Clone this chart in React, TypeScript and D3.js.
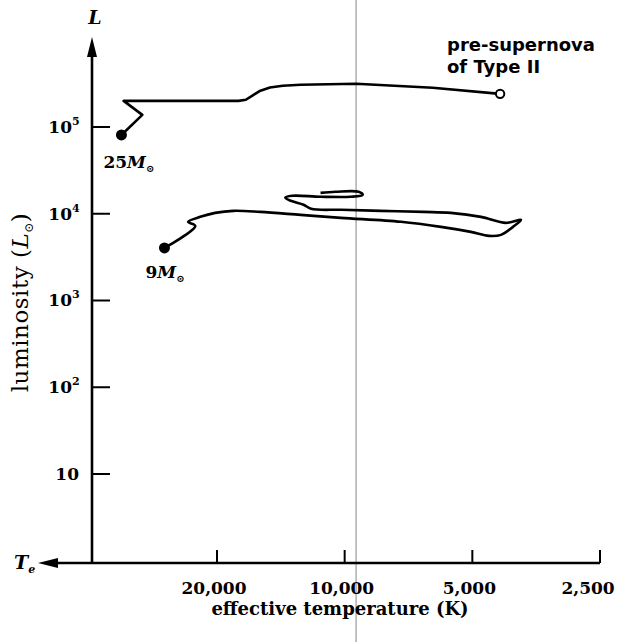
import * as d3 from "d3";

// temperature ticks (K) and luminosity decades (L_sun)
const tempTicks = [20000, 10000, 5000, 2500];
const tempLabels = ["20,000", "10,000", "5,000", "2,500"];
const lumTicks = [10, 100, 1000, 10000, 100000];
const lumExp = ["", "2", "3", "4", "5"];

// [Teff, L] along the evolutionary tracks
const track25: [number, number][] = [
  [33600, 81000],
  [30000, 138000],
  [33200, 200000],
  [17800, 200000],
  [17100, 206000],
  [16400, 235000],
  [15800, 262000],
  [15000, 285000],
  [14000, 299000],
  [12700, 307000],
  [9400, 315000],
  [6200, 283000],
  [4300, 241000],
];

const track9: [number, number][] = [
  [26600, 4040],
  [22500, 7250],
  [23400, 8070],
  [21900, 9210],
  [20200, 10230],
  [18300, 10800],
  [15800, 10500],
  [12700, 9710],
  [10200, 8970],
  [7370, 8070],
  [5930, 7060],
  [5040, 6180],
  [4570, 5560],
  [4280, 5710],
  [4010, 7060],
  [3840, 8500],
  [4170, 7850],
  [4770, 9210],
  [5620, 10230],
  [6510, 10500],
  [8220, 10800],
  [10200, 11100],
  [12000, 11400],
  [12500, 12700],
  [13400, 14100],
  [13800, 15300],
  [13300, 16100],
  [11400, 15700],
  [9680, 15700],
  [9070, 16500],
  [9270, 17900],
  [10500, 17900],
  [11400, 17400],
];

// faint fold line in the scanned page
const foldT = 9400;

const W = 628;
const H = 642;
const axisX = 92;
const axisY = 563;

const serif = "'DejaVu Serif', serif";

export default function App() {
  const x = d3.scaleLog().domain([20000, 2500]).range([217, 600]);
  const y = d3.scaleLog().domain([10, 100000]).range([474, 127]);

  const linear = d3
    .line<[number, number]>()
    .x((d) => x(d[0]))
    .y((d) => y(d[1]));
  const smooth = d3
    .line<[number, number]>()
    .x((d) => x(d[0]))
    .y((d) => y(d[1]))
    .curve(d3.curveCatmullRom.alpha(0.5));

  const s25 = track25[0];
  const e25 = track25[track25.length - 1];
  const s9 = track9[0];

  return (
    <svg
      width={W}
      height={H}
      style={{ position: "absolute", left: 0, top: 0, background: "#fff" }}
    >
      <line
        x1={x(foldT)}
        x2={x(foldT)}
        y1={0}
        y2={H}
        stroke="#666"
        strokeWidth={0.8}
      />

      {/* y axis */}
      <line x1={axisX} x2={axisX} y1={axisY} y2={52} stroke="#000" strokeWidth={2.6} />
      <path d={`M${axisX},37 L${axisX - 5},57 L${axisX + 5},57 Z`} fill="#000" />
      <text x={axisX + 3} y={24} fontFamily={serif} fontStyle="italic" fontWeight="bold" fontSize={19} textAnchor="middle">
        L
      </text>
      {lumTicks.map((t, i) => (
        <g key={t} transform={`translate(0,${y(t)})`}>
          <line x1={axisX} x2={axisX + 18} stroke="#000" strokeWidth={2} />
          <text
            x={lumExp[i] ? 72 : 79}
            dy="0.35em"
            fontFamily={serif}
            fontWeight="bold"
            fontSize={17}
            textAnchor="end"
          >
            10
          </text>
          {lumExp[i] && (
            <text x={72} dy="-0.2em" fontFamily={serif} fontWeight="bold" fontSize={11}>
              {lumExp[i]}
            </text>
          )}
        </g>
      ))}
      <text
        transform={`translate(28,${y(1000) + 2}) rotate(-90)`}
        fontFamily={serif}
        fontSize={23}
        letterSpacing={0.5}
        textAnchor="middle"
      >
        luminosity (<tspan fontStyle="italic">L</tspan>
        <tspan fontSize={12} dy={5}>⊙</tspan>
        <tspan dy={-5}>)</tspan>
      </text>

      {/* x axis */}
      <line x1={x(2500)} x2={52} y1={axisY} y2={axisY} stroke="#000" strokeWidth={2.6} />
      <path d={`M38,${axisY} L58,${axisY - 5} L58,${axisY + 5} Z`} fill="#000" />
      <text x={14} y={axisY + 6} fontFamily={serif} fontStyle="italic" fontWeight="bold" fontSize={19}>
        T
        <tspan fontSize={11} dy={4}>e</tspan>
      </text>
      {tempTicks.map((t, i) => (
        <g key={t} transform={`translate(${x(t)},${axisY})`}>
          <line y1={0} y2={-13} stroke="#000" strokeWidth={2} />
          <text
            x={i === tempTicks.length - 1 ? -12 : -3}
            y={31}
            fontFamily={serif}
            fontWeight="bold"
            fontSize={17}
            textAnchor="middle"
          >
            {tempLabels[i]}
          </text>
        </g>
      ))}
      <text x={340} y={615} fontFamily={serif} fontWeight="bold" fontSize={18} textAnchor="middle">
        effective temperature (K)
      </text>

      {/* tracks */}
      <path d={linear(track25) ?? ""} fill="none" stroke="#000" strokeWidth={2.6} strokeLinejoin="round" />
      <path d={smooth(track9) ?? ""} fill="none" stroke="#000" strokeWidth={2.6} strokeLinejoin="round" />
      <circle cx={x(s25[0])} cy={y(s25[1])} r={5.5} fill="#000" />
      <circle cx={x(s9[0])} cy={y(s9[1])} r={5.5} fill="#000" />
      <circle cx={x(e25[0])} cy={y(e25[1])} r={4.2} fill="#fff" stroke="#000" strokeWidth={2} />

      <text x={x(s25[0]) - 18} y={y(s25[1]) + 33} fontFamily={serif} fontWeight="bold" fontSize={17}>
        25<tspan fontStyle="italic">M</tspan>
        <tspan fontSize={10} dy={4}>⊙</tspan>
      </text>
      <text x={x(s9[0]) - 19} y={y(s9[1]) + 30} fontFamily={serif} fontWeight="bold" fontSize={17}>
        9<tspan fontStyle="italic">M</tspan>
        <tspan fontSize={10} dy={4}>⊙</tspan>
      </text>

      <text fontFamily="'DejaVu Sans', sans-serif" fontSize={18} fontWeight="bold">
        <tspan x={447} y={51}>pre-supernova</tspan>
        <tspan x={447} y={73}>of Type II</tspan>
      </text>
    </svg>
  );
}
